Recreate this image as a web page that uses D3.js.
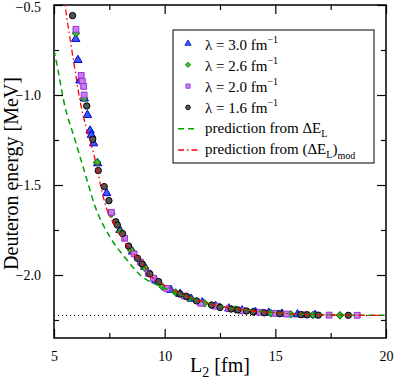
<!DOCTYPE html>
<html>
<head>
<meta charset="utf-8">
<script src="https://cdn.jsdelivr.net/npm/d3@7"></script>
<style>
  body { margin: 0; background: #fff; }
</style>
</head>
<body>
<div id="chart"></div>
<script>
// values: [L2 (fm), energy (MeV)]
var lam30 = [[5.98,-0.689],[6.08,-0.806],[6.17,-0.92],[6.37,-1.02],[6.51,-1.111],[6.63,-1.198],[6.69,-1.222],
  [6.79,-1.269],[6.97,-1.38],[7.38,-1.546],[7.98,-1.75],[8.55,-1.87],[9.1,-1.955],[9.6,-2.03],[10.28,-2.083],
  [10.7,-2.105],[11.2,-2.132],[11.7,-2.152],[12.3,-2.172],[12.9,-2.186],[13.5,-2.197],[14.1,-2.205],
  [14.7,-2.21],[15.3,-2.215],[16.0,-2.219],[16.8,-2.222]]
var lam26 = [[5.99,-0.657],[6.36,-1.018],[6.95,-1.374],[7.6,-1.66],[8.0,-1.76],[8.48,-1.861],[9.1,-1.96],
  [9.9,-2.065],[10.5,-2.097],[11.1,-2.128],[11.8,-2.157],[12.5,-2.177],[13.2,-2.192],[14.0,-2.204],
  [14.8,-2.212],[15.7,-2.218],[16.7,-2.222],[17.92,-2.224]]
var lam20 = [[5.99,-0.635],[6.23,-0.891],[6.28,-0.924],[6.34,-0.952],[6.36,-1.0],[7.59,-1.652],[8.19,-1.796],
  [8.62,-1.883],[8.9,-1.928],[9.26,-1.99],[9.49,-2.018],[10.1,-2.075],[10.9,-2.117],[11.63,-2.157],
  [12.3,-2.173],[12.9,-2.187],[13.5,-2.199],[14.3,-2.207],[15.0,-2.213],[15.5,-2.217],[16.34,-2.221],
  [17.43,-2.223],[18.7,-2.224]]
var lam16 = [[5.84,-0.559],[6.48,-1.061],[6.75,-1.246],[7.0,-1.42],[7.27,-1.509],[7.48,-1.587],[7.79,-1.704],
  [7.86,-1.722],[8.1,-1.77],[8.37,-1.839],[8.77,-1.907],[8.98,-1.939],[9.33,-1.994],[9.73,-2.037],
  [10.69,-2.106],[10.99,-2.12],[11.44,-2.144],[12.12,-2.167],[12.5,-2.18],[13.0,-2.189],[13.3,-2.194],
  [13.7,-2.2],[14.0,-2.205],[14.5,-2.21],[15.2,-2.215],[16.15,-2.22],[16.44,-2.221],[16.94,-2.223],[18.3,-2.224]]

// the two prediction curves
var predDE = [[5.0,-0.75],[5.18,-0.861],[5.45,-1.039],[5.95,-1.25],[6.49,-1.472],[6.85,-1.617],[7.53,-1.789],
  [8.3,-1.917],[8.89,-2.0],[9.93,-2.069],[10.5,-2.1],[11,-2.122],[12,-2.158],[13,-2.183],[14,-2.199],
  [15,-2.209],[16,-2.216],[17,-2.22],[18,-2.222],[19,-2.2235],[20,-2.224]]
var predDEmod = [[5.45,-0.45],[5.5,-0.5],[5.72,-0.683],[5.95,-0.861],[6.17,-1.028],[6.45,-1.178],[6.72,-1.294],
  [6.94,-1.4],[7.12,-1.511],[7.3,-1.6],[7.89,-1.75],[8.34,-1.844],[8.98,-1.933],[9.34,-2.0],[10,-2.058],
  [10.5,-2.09],[11,-2.118],[12,-2.158],[13,-2.184],[14,-2.2],[15,-2.21],[16,-2.217],[17,-2.221],
  [18,-2.223],[19,-2.224],[20,-2.2245]]
var bindingE = -2.2246

var xTicks = [5, 10, 15, 20]
var yTicks = [-0.5, -1.0, -1.5, -2.0]
var xMinor = [7.5, 12.5, 17.5]
var yMinor = [-0.75, -1.25, -1.75, -2.25]

var legendNames = ["3.0", "2.6", "2.0", "1.6"]

var serif = "'Liberation Serif', 'Times New Roman', Times, 'DejaVu Serif', serif"

// set the dimensions and margins of the graph
var margin = {top: 5, right: 9, bottom: 43, left: 54},
  width = 395 - margin.left - margin.right,
  height = 381 - margin.top - margin.bottom;

var svg = d3.select("#chart")
  .append("svg")
  .attr("width", 395)
  .attr("height", 381)
  .append("g")
  .attr("transform", "translate(" + margin.left + "," + margin.top + ")");

var x = d3.scaleLinear().domain([5, 20]).range([0, width])
var y = d3.scaleLinear().domain([-2.35, -0.5]).range([height, 0])

svg.append("clipPath").attr("id", "clip")
  .append("rect").attr("width", width).attr("height", height)

var fmt = function(d) { return d3.format(".1f")(d).replace("-", "\u2212") }

// axes, ticks on all four sides pointing inward
svg.append("g").attr("transform", "translate(0," + height + ")")
  .call(d3.axisBottom(x).tickValues(xTicks).tickSize(-9).tickPadding(13).tickFormat(d3.format("d")))
svg.append("g").attr("transform", "translate(0," + height + ")")
  .call(d3.axisBottom(x).tickValues(xMinor).tickSize(-5).tickFormat(""))
svg.append("g")
  .call(d3.axisTop(x).tickValues(xTicks).tickSize(-9).tickFormat(""))
svg.append("g")
  .call(d3.axisTop(x).tickValues(xMinor).tickSize(-5).tickFormat(""))
var yAxis = svg.append("g")
  .call(d3.axisLeft(y).tickValues(yTicks).tickSize(-9).tickPadding(13).tickFormat(fmt))
svg.append("g")
  .call(d3.axisLeft(y).tickValues(yMinor).tickSize(-5).tickFormat(""))
svg.append("g").attr("transform", "translate(" + width + ",0)")
  .call(d3.axisRight(y).tickValues(yTicks).tickSize(-9).tickFormat(""))
svg.append("g").attr("transform", "translate(" + width + ",0)")
  .call(d3.axisRight(y).tickValues(yMinor).tickSize(-5).tickFormat(""))

svg.selectAll(".domain").remove()
svg.selectAll(".tick line").attr("stroke", "#000").attr("stroke-width", 1.2)
svg.selectAll(".tick text").attr("font-size", 14).attr("font-family", serif).attr("fill", "#000")
// top label sits right at the edge, nudge it down a little
yAxis.selectAll(".tick text").filter(function(d) { return d === -0.5 }).attr("y", 2)

svg.append("rect")
  .attr("width", width).attr("height", height)
  .attr("fill", "none").attr("stroke", "#000").attr("stroke-width", 1.5)

// dotted line at the deuteron binding energy
svg.append("line")
  .attr("x1", x(5)).attr("x2", x(20))
  .attr("y1", y(bindingE)).attr("y2", y(bindingE))
  .attr("stroke", "#000").attr("stroke-width", 1).attr("stroke-dasharray", "1,3")

// data symbols
var series = [
  {data: lam30, shape: d3.symbolTriangle, size: 30, rot: 0, fill: "#3a5cff", stroke: "#0000d0"},
  {data: lam26, shape: d3.symbolSquare, size: 26, rot: 45, fill: "#3cc03c", stroke: "#127a12"},
  {data: lam20, shape: d3.symbolSquare, size: 34, rot: 0, fill: "#c77cf0", stroke: "#9a30d8"},
  {data: lam16, shape: d3.symbolCircle, size: 32, rot: 0, fill: "#555555", stroke: "#000000"}
]

series.forEach(function(s) {
  svg.append("g").attr("clip-path", "url(#clip)")
    .selectAll("path")
    .data(s.data)
    .enter()
    .append("path")
    .attr("d", d3.symbol().type(s.shape).size(s.size))
    .attr("transform", function(d) { return "translate(" + x(d[0]) + "," + y(d[1]) + ") rotate(" + s.rot + ")" })
    .attr("fill", s.fill)
    .attr("stroke", s.stroke)
    .attr("stroke-width", 1)
})

// prediction curves
var line = d3.line()
  .x(function(d) { return x(d[0]) })
  .y(function(d) { return y(d[1]) })
  .curve(d3.curveMonotoneX)

svg.append("path").datum(predDE)
  .attr("clip-path", "url(#clip)")
  .attr("d", line).attr("fill", "none")
  .attr("stroke", "#00a000").attr("stroke-width", 1.5).attr("stroke-dasharray", "6,4")
svg.append("path").datum(predDEmod)
  .attr("clip-path", "url(#clip)")
  .attr("d", line).attr("fill", "none")
  .attr("stroke", "#ff0000").attr("stroke-width", 1.3).attr("stroke-dasharray", "6,3,1.5,3")

// axis titles
svg.append("text")
  .attr("transform", "translate(" + (-36.5) + "," + (height / 2 + 2) + ") rotate(-90)")
  .attr("text-anchor", "middle")
  .attr("font-family", serif).attr("font-size", 20)
  .text("Deuteron energy [MeV]")

var xt = svg.append("text")
  .attr("x", width / 2).attr("y", height + 34)
  .attr("text-anchor", "middle")
  .attr("font-family", serif).attr("font-size", 20)
xt.append("tspan").text("L")
xt.append("tspan").attr("dy", 5).attr("font-size", 14).text("2")
xt.append("tspan").attr("dy", -5).text(" [fm]")

// legend
var lg = svg.append("g").attr("transform", "translate(" + (173 - margin.left) + "," + (30 - margin.top) + ")")
  .attr("font-family", serif)
lg.append("rect")
  .attr("width", 201).attr("height", 133)
  .attr("fill", "#fff").attr("stroke", "#000").attr("stroke-width", 1)

series.forEach(function(s, i) {
  var ry = 13.5 + i * 21.3
  lg.append("path")
    .attr("d", d3.symbol().type(s.shape).size(s.size * 0.55))
    .attr("transform", "translate(15," + ry + ") rotate(" + s.rot + ")")
    .attr("fill", s.fill).attr("stroke", s.stroke).attr("stroke-width", 0.8)
  var t = lg.append("text").attr("x", 32).attr("y", ry + 6).attr("font-size", 15)
  t.append("tspan").text("\u03bb = " + legendNames[i] + " fm")
  t.append("tspan").attr("dy", -7).attr("font-size", 10).text("\u22121")
})

var r5 = 13.5 + 4 * 21.3, r6 = 13.5 + 5 * 21.3
lg.append("line").attr("x1", 5).attr("x2", 25).attr("y1", r5).attr("y2", r5)
  .attr("stroke", "#00a000").attr("stroke-width", 1.5).attr("stroke-dasharray", "6,4")
lg.append("line").attr("x1", 5).attr("x2", 25).attr("y1", r6).attr("y2", r6)
  .attr("stroke", "#ff0000").attr("stroke-width", 1.3).attr("stroke-dasharray", "6,3,1.5,3")

var t5 = lg.append("text").attr("x", 32).attr("y", r5 + 4).attr("font-size", 15)
t5.append("tspan").text("prediction from \u0394E")
t5.append("tspan").attr("dy", 4).attr("font-size", 10).text("L")

var t6 = lg.append("text").attr("x", 32).attr("y", r6 + 4).attr("font-size", 15)
t6.append("tspan").text("prediction from (\u0394E")
t6.append("tspan").attr("dy", 4).attr("font-size", 10).text("L")
t6.append("tspan").attr("dy", -4).text(")")
t6.append("tspan").attr("dy", 5).attr("font-size", 10).text("mod")
</script>
</body>
</html>
